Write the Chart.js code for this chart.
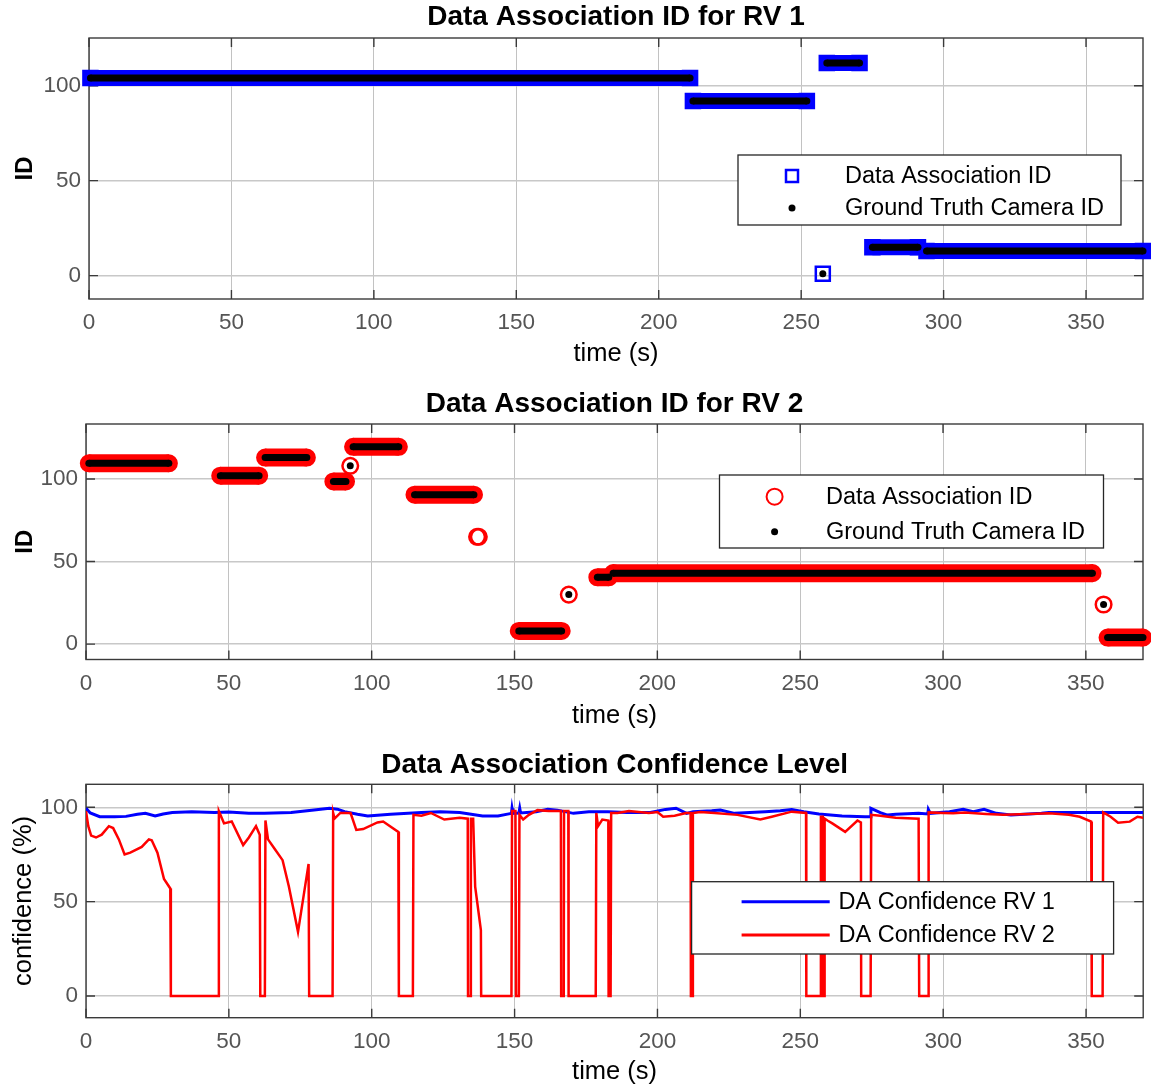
<!DOCTYPE html>
<html><head><meta charset="utf-8">
<script src="https://cdn.jsdelivr.net/npm/chart.js@4/dist/chart.umd.min.js"></script>
<style>
html,body{margin:0;padding:0;background:#fff;}
body{width:1151px;height:1090px;position:relative;overflow:hidden;}
canvas{position:absolute;left:0;}
</style></head><body>
<canvas id="c1" width="1151" height="372" style="top:0px"></canvas>
<canvas id="c2" width="1151" height="352" style="top:380px"></canvas>
<canvas id="c3" width="1151" height="348" style="top:742px"></canvas>
<script>
// ---------------- data ----------------
const timeTicks = [0, 50, 100, 150, 200, 250, 300, 350];
const idTicks = [0, 50, 100];
const confTicks = [0, 50, 100];

const titles = ['Data Association ID for RV 1', 'Data Association ID for RV 2', 'Data Association Confidence Level'];
const seriesNames = ['Data Association ID', 'Ground Truth Camera ID', 'DA Confidence RV 1', 'DA Confidence RV 2'];

// RV 1 ID segments (time start, time end, ID)
const rv1SegStart = [0.5, 212, 257.6, 259, 275, 294];
const rv1SegEnd   = [211, 252, 257.6, 270.5, 291, 370];
const rv1DaId     = [104, 92, 1, 112, 15, 13];
const rv1GtId     = [104, 92, 1, 112, 15, 13];

// RV 2 ID segments
const rv2SegStart = [1, 47, 62.7, 86.6, 92.5, 93.5, 115, 136.9, 137.5, 151.5, 169, 179, 184.5, 356.2, 357.6];
const rv2SegEnd   = [29, 60.6, 77.3, 91, 92.5, 109.5, 135.8, 136.9, 137.5, 166.5, 169, 183, 352.3, 356.2, 370];
const rv2DaId     = [109.5, 102, 113, 98.5, 108, 119.5, 90.5, 65, 65, 8, 30, 40.5, 43, 24, 4];
const rv2GtId     = [109.5, 102, 113, 98.5, 108, 119.5, 90.5, null, null, 8, 30, 40.5, 43, 24, 4];

// DA confidence RV 1
const conf1Time = [0,1.5,4.8,10,14,18,20.8,24.2,27,30.2,37,45,50,57,62.4,71.8,79.8,85.2,88,90.5,95,98.6,106.6,117.4,124,130.8,138.8,144.2,148.9,149.1,149.4,151.5,151.8,152.1,157.6,161.6,165,170.6,176,182.7,189.4,197.5,202.8,206.5,210.2,212.5,219,222,227,237.7,243,247,251.2,256.5,264.6,272.6,274.5,274.7,278,280.5,283.4,291.4,294.6,294.8,295.5,302.2,307,310.5,314.3,318.6,323.7,334.4,337,350.5,358.6,370];
const conf1Value = [99.5,97,95,95,95.2,96.3,96.8,95.4,96.5,97.3,97.7,97.2,97.5,96.8,96.8,97.3,98.6,99.5,99,97.7,96.3,95.4,96.3,97.2,97.7,97.2,95.4,95.4,96.8,99.5,96.8,97,99.5,97,97.7,99,98.5,96.8,97.7,97.7,97.3,97.3,98.9,99.5,96.8,97.7,98.2,98.6,96.8,97.7,98.2,98.9,97.7,96.5,95.4,95,95,99.5,97.2,95.9,96.3,96.8,96.5,98.9,96.8,97.7,98.9,97.7,98.9,96.8,95.9,96.8,97.3,97.3,97.3,97.2];

// DA confidence RV 2
const conf2Time = [0,0.8,1.8,3.5,5.5,8,9.5,11.5,13.5,15.5,19.5,22,23,25,27.3,29.5,29.7,46.3,46.5,48.3,51,55,57,59.5,60.8,61,62.6,62.8,63.7,66,68.8,71,74.2,77.9,78.1,86.3,86.5,87,89,92.6,94.6,97,102,104,109.3,109.5,114.4,114.6,117.4,120.7,125.4,130.8,133.6,133.7,134.6,134.7,135.5,136.2,138.2,138.3,148.9,149.1,150.3,150.5,151.5,151.7,153,155,158,162,166.2,166.3,167.2,167.3,168.8,168.9,178.4,178.6,179.2,180.7,182.8,182.9,183.6,183.8,186,190,197,200,202,206,210,211.6,211.7,212.3,212.4,215,220,228,236,240,247,252,252.1,257.1,257.2,257.9,258,258.4,258.5,259.5,261.2,265.7,270,271.2,271.3,274.6,274.8,278,283.4,291.4,291.6,294.7,294.9,300,303.5,307.5,315,321,330,337,344,347.8,351.8,352,355.8,356,358.6,361.2,365.3,368,370];
const conf2Value = [98,90,85,84,85.5,90,89,83,75,76,79,83,82.5,76,62,57,0,0,98,91.5,92.5,80,84,90,85.5,0,0,93,83,78,72,58,34,70,0,0,97,94,97,97,88,88.5,92,92.5,87,0,0,96,95.5,97,93.5,94.5,94,0,0,94,94,58,35,0,0,98,98,0,0,96,93.5,96,98.5,98,98,0,0,98,98,0,0,97,90,93.5,93,0,0,97,97,98,97,97.5,95,95.5,97,97,0,0,97,97.5,97,96,93.5,95,97.7,97,0,0,95,95,0,0,94,93,91.5,87,93,92,0,0,96,95.5,94.5,94,0,0,97.3,97,96.8,97.3,96.5,96,96.5,96.8,96,95,92.4,0,0,97.3,95,91.8,92.4,95,94.5];

// ---------------- helpers ----------------
const FONT = "'Liberation Sans', Arial, Helvetica, sans-serif";
const BLUE = '#0000ff', RED = '#ff0000';

function segPoints(starts, ends, ids) {
  const pts = [];
  for (let i = 0; i < starts.length; i++) {
    if (ids[i] === null) continue;
    const iso = ends[i] === starts[i];
    pts.push({x: starts[i], y: ids[i], iso});
    if (!iso) pts.push({x: ends[i], y: ids[i], iso});
    pts.push({x: ends[i], y: null});
  }
  return pts;
}
function linePoints(t, v) { return t.map((x, i) => ({x, y: v[i]})); }

const frame = {
  id: 'frame',
  beforeDatasetsDraw(chart) {
    const {ctx, chartArea: a, scales} = chart;
    ctx.save();
    ctx.strokeStyle = '#3a3a3a';
    ctx.lineWidth = 1.4;
    ctx.strokeRect(a.left, a.top, a.right - a.left, a.bottom - a.top);
    ctx.beginPath();
    const tl = 9;
    scales.x.ticks.forEach(t => {
      const px = scales.x.getPixelForValue(t.value);
      ctx.moveTo(px, a.bottom); ctx.lineTo(px, a.bottom - tl);
      ctx.moveTo(px, a.top); ctx.lineTo(px, a.top + tl);
    });
    scales.y.ticks.forEach(t => {
      const py = scales.y.getPixelForValue(t.value);
      ctx.moveTo(a.left, py); ctx.lineTo(a.left + tl, py);
      ctx.moveTo(a.right, py); ctx.lineTo(a.right - tl, py);
    });
    ctx.stroke();
    ctx.restore();
  }
};

const plotTitle = {
  id: 'plotTitle',
  afterDraw(chart, args, o) {
    const {ctx, chartArea: a} = chart;
    ctx.save();
    ctx.font = 'bold 28px ' + FONT;
    ctx.fillStyle = '#000';
    ctx.textAlign = 'center';
    ctx.textBaseline = 'middle';
    ctx.fillText(o.text, (a.left + a.right) / 2, o.y);
    ctx.restore();
  }
};

const boxLegend = {
  id: 'boxLegend',
  afterDraw(chart, args, o) {
    const ctx = chart.ctx;
    ctx.save();
    ctx.fillStyle = '#fff';
    ctx.fillRect(o.x, o.y, o.w, o.h);
    ctx.strokeStyle = '#262626';
    ctx.lineWidth = 1.3;
    ctx.strokeRect(o.x, o.y, o.w, o.h);
    o.items.forEach((it, i) => {
      const ds = chart.data.datasets[it.ds];
      const cy = o.rows[i];
      const ix = o.iconX;
      ctx.save();
      if (it.kind === 'square') {
        ctx.strokeStyle = ds.borderColor; ctx.lineWidth = 2.5;
        ctx.strokeRect(ix - 6, cy - 6, 12, 12);
      } else if (it.kind === 'circle') {
        ctx.strokeStyle = ds.borderColor; ctx.lineWidth = 2;
        ctx.beginPath(); ctx.arc(ix, cy, 8, 0, Math.PI * 2); ctx.stroke();
      } else if (it.kind === 'dot') {
        ctx.fillStyle = '#000';
        ctx.beginPath(); ctx.arc(ix, cy, 3.5, 0, Math.PI * 2); ctx.fill();
      } else if (it.kind === 'line') {
        ctx.strokeStyle = ds.borderColor; ctx.lineWidth = 3;
        ctx.beginPath(); ctx.moveTo(o.lineX0, cy); ctx.lineTo(o.lineX1, cy); ctx.stroke();
      }
      ctx.restore();
      ctx.fillStyle = '#000';
      ctx.font = '23.5px ' + FONT;
      ctx.textAlign = 'left';
      ctx.textBaseline = 'middle';
      ctx.fillText(ds.label, o.textX, cy + 1);
    });
    ctx.restore();
  }
};

function xScale(areaBottom, H, tickPad, titlePad) {
  return {
    type: 'linear', min: 0, max: 370,
    afterBuildTicks: s => { s.ticks = timeTicks.map(v => ({value: v})); },
    afterFit: s => { s.height = H - areaBottom; },
    grid: {color: '#c2c2c2', lineWidth: 1, drawTicks: false},
    border: {display: false},
    ticks: {padding: tickPad, color: '#555', font: {size: 22.5, family: FONT}, maxRotation: 0, autoSkip: false},
    title: {display: true, text: 'time (s)', color: '#000', font: {size: 25.5, family: FONT}, padding: {top: 0, bottom: titlePad}}
  };
}
function yScale(min, max, ticks, left, title, bold, titlePad) {
  return {
    type: 'linear', min, max,
    afterBuildTicks: s => { s.ticks = ticks.map(v => ({value: v})); },
    afterFit: s => { s.width = left; },
    grid: {color: '#c8c8c8', lineWidth: 1.5, drawTicks: false},
    border: {display: false},
    ticks: {padding: 8, color: '#555', font: {size: 22.5, family: FONT}},
    title: {display: true, text: title, color: '#000', font: {size: bold ? 24 : 25.5, weight: bold ? 'bold' : 'normal', family: FONT}, padding: {top: titlePad, bottom: 0}}
  };
}
const basePlugins = {legend: {display: false}, tooltip: {enabled: false}};

// keep each plot area where the reference has it
function pin(chart, area) {
  for (let k = 0; k < 4; k++) {
    const a = chart.chartArea;
    const p = chart.config.options.layout.padding;
    const dr = a.right - area.right, dt = area.top - a.top;
    if (Math.abs(dr) < 0.05 && Math.abs(dt) < 0.05) break;
    p.right += dr;
    p.top += dt;
    chart.update('none');
  }
}

// ---------------- chart 1 ----------------
const ch1 = new Chart(document.getElementById('c1'), {
  type: 'line',
  data: {datasets: [
    {label: seriesNames[1], data: segPoints(rv1SegStart, rv1SegEnd, rv1GtId), order: 0, clip: false,
     borderColor: '#000', backgroundColor: '#000', borderWidth: 7, borderCapStyle: 'butt', spanGaps: false,
     pointRadius: 3.5, pointStyle: 'circle', pointBackgroundColor: '#000', pointBorderWidth: 0},
    {label: seriesNames[0], data: segPoints(rv1SegStart, rv1SegEnd, rv1DaId), order: 1, clip: false,
     borderColor: BLUE, backgroundColor: BLUE, borderWidth: 16, borderCapStyle: 'butt', spanGaps: false,
     pointRadius: 9.9, pointStyle: 'rect', pointBorderColor: BLUE, pointBorderWidth: 2.5,
     pointBackgroundColor: c => (c.raw && c.raw.iso) ? 'rgba(0,0,0,0)' : BLUE}
  ]},
  options: {
    responsive: false, animation: false, events: [],
    layout: {autoPadding: false, padding: {left: 0, right: 8, top: 38, bottom: 0}},
    scales: {x: xScale(299, 372, 10.5, 3), y: yScale(-12.3, 125.1, idTicks, 89, 'ID', true, 10.6)},
    plugins: Object.assign({}, basePlugins, {
      plotTitle: {text: titles[0], y: 17},
      boxLegend: {x: 738, y: 155, w: 383, h: 70, rows: [176, 208], iconX: 792, textX: 845,
        items: [{ds: 1, kind: 'square'}, {ds: 0, kind: 'dot'}]}
    })
  },
  plugins: [frame, plotTitle, boxLegend]
});
pin(ch1, {top: 38, right: 1143});

// ---------------- chart 2 ----------------
const ch2 = new Chart(document.getElementById('c2'), {
  type: 'line',
  data: {datasets: [
    {label: seriesNames[1], data: segPoints(rv2SegStart, rv2SegEnd, rv2GtId), order: 0, clip: false,
     borderColor: '#000', backgroundColor: '#000', borderWidth: 7, borderCapStyle: 'butt', spanGaps: false,
     pointRadius: 3.5, pointStyle: 'circle', pointBackgroundColor: '#000', pointBorderWidth: 0},
    {label: seriesNames[0], data: segPoints(rv2SegStart, rv2SegEnd, rv2DaId), order: 1, clip: false,
     borderColor: RED, backgroundColor: RED, borderWidth: 18, borderCapStyle: 'butt', spanGaps: false,
     pointRadius: 7.8, pointStyle: 'circle', pointBorderColor: RED, pointBorderWidth: 2.5,
     pointBackgroundColor: c => (c.raw && c.raw.iso) ? 'rgba(0,0,0,0)' : RED}
  ]},
  options: {
    responsive: false, animation: false, events: [],
    layout: {autoPadding: false, padding: {left: 0, right: 8, top: 44, bottom: 0}},
    scales: {x: xScale(279.5, 352, 10.3, 1), y: yScale(-9.3, 133.3, idTicks, 86, 'ID', true, 10.6)},
    plugins: Object.assign({}, basePlugins, {
      plotTitle: {text: titles[1], y: 24},
      boxLegend: {x: 719.5, y: 95, w: 384, h: 73, rows: [116.7, 151.7], iconX: 774.6, textX: 826,
        items: [{ds: 1, kind: 'circle'}, {ds: 0, kind: 'dot'}]}
    })
  },
  plugins: [frame, plotTitle, boxLegend]
});
pin(ch2, {top: 44, right: 1143});

// ---------------- chart 3 ----------------
const ch3 = new Chart(document.getElementById('c3'), {
  type: 'line',
  data: {datasets: [
    {label: seriesNames[3], data: linePoints(conf2Time, conf2Value), order: 0,
     borderColor: RED, backgroundColor: RED, borderWidth: 2.5, pointRadius: 0, tension: 0},
    {label: seriesNames[2], data: linePoints(conf1Time, conf1Value), order: 1,
     borderColor: BLUE, backgroundColor: BLUE, borderWidth: 3, pointRadius: 0, tension: 0}
  ]},
  options: {
    responsive: false, animation: false, events: [],
    layout: {autoPadding: false, padding: {left: 0, right: 8, top: 42.3, bottom: 0}},
    scales: {x: xScale(275.7, 348, 10.5, 2.5), y: yScale(-11.5, 112.2, confTicks, 86, 'confidence (%)', false, 8.5)},
    plugins: Object.assign({}, basePlugins, {
      plotTitle: {text: titles[2], y: 23},
      boxLegend: {x: 691.6, y: 139.7, w: 422, h: 72.3, rows: [159.7, 193], iconX: 785, lineX0: 741.6, lineX1: 829.7, textX: 838.5,
        items: [{ds: 1, kind: 'line'}, {ds: 0, kind: 'line'}]}
    })
  },
  plugins: [frame, plotTitle, boxLegend]
});
pin(ch3, {top: 42.3, right: 1143.2});
</script>
</body></html>
